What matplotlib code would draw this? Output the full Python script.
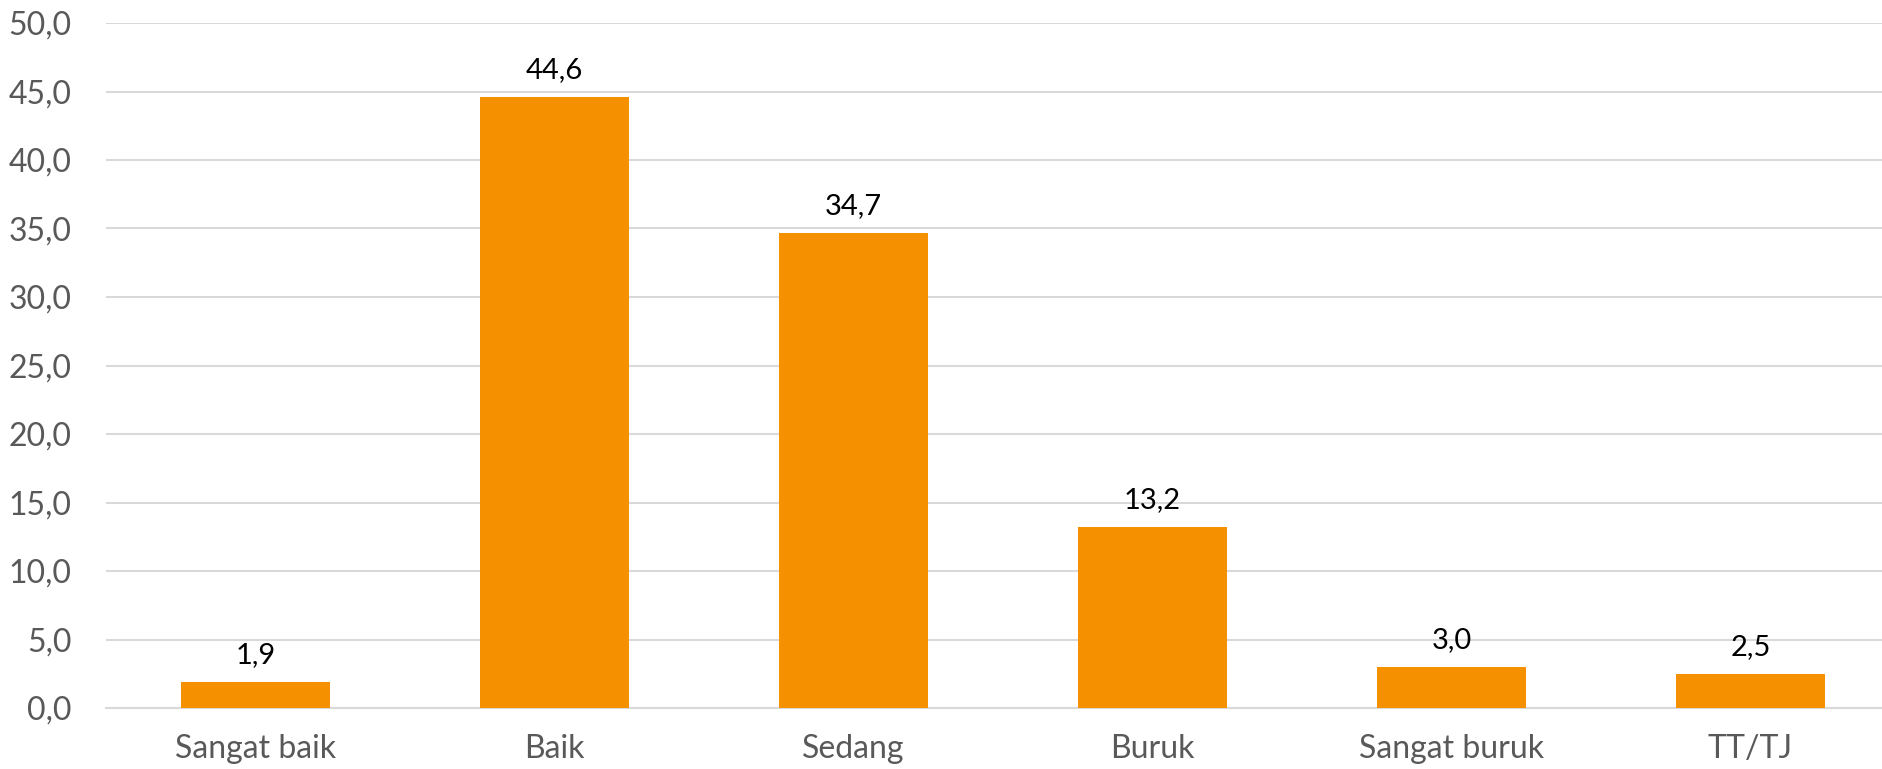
import numpy as np
import matplotlib.pyplot as plt

plt.rcParams['font.family'] = ['Lato', 'DejaVu Sans']

# Kategori dan nilai (%)
categories = ['Sangat baik', 'Baik', 'Sedang', 'Buruk', 'Sangat buruk', 'TT/TJ']
values = [1.9, 44.6, 34.7, 13.2, 3.0, 2.5]
yticks = np.arange(0, 55, 5)

fig = plt.figure(figsize=(18.83, 7.69), dpi=100)
# plot area runs slightly past the right edge, like the original
ax = fig.add_axes([106 / 1883, 1 - 708 / 769, 1794 / 1883, 685 / 769])

x = np.arange(len(categories))
bars = ax.bar(x, values, width=0.5, color='#F59100', zorder=3)

for b, v in zip(bars, values):
    ax.annotate(f'{v:.1f}'.replace('.', ','), (b.get_x() + b.get_width() / 2, v),
                xytext=(0, 10), textcoords='offset points',
                ha='center', va='bottom', fontsize=21, color='black')

ax.set_xlim(-0.5, len(categories) - 0.5)
ax.set_ylim(0, 50)
ax.set_yticks(yticks)
ax.set_yticklabels([f'{t:.1f}'.replace('.', ',') for t in yticks])
ax.set_xticks(x)
ax.set_xticklabels(categories)

ax.grid(axis='y', color='#d9d9d9', linewidth=1.5, zorder=0)
for s in ['top', 'right', 'left']:
    ax.spines[s].set_visible(False)
ax.spines['bottom'].set_color('#d9d9d9')
ax.spines['bottom'].set_linewidth(1.5)
ax.tick_params(axis='y', length=0, pad=25, labelsize=23, labelcolor='#595959')
ax.tick_params(axis='x', length=0, pad=19, labelsize=23, labelcolor='#595959')

fig.savefig('out.png', dpi=100)
